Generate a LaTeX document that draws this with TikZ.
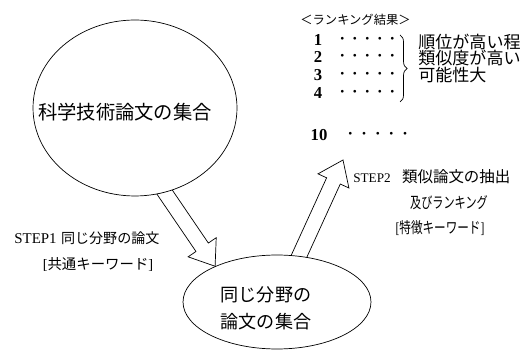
\documentclass[tikz,border=0pt]{standalone}
\usepackage{fontspec}
\setmainfont{Liberation Serif}
\newfontfamily\jp{Noto Sans CJK JP}
\usetikzlibrary{shapes.geometric,calc,decorations.pathreplacing}
\pgfdeclarelayer{bg}
\pgfsetlayers{bg,main}
% block arrow from #1 (tail) to #2 (tip)
\newcommand\blockarr[2]{%
  \path ($(#2)!0.46cm!(#1)$) coordinate (bh);
  \draw[blockline] ($(#1)!0.15cm!90:(#2)$) -- ($(bh)!0.15cm!90:(#2)$)
    -- ($(bh)!0.34cm!90:(#2)$) -- (#2) -- ($(bh)!0.34cm!-90:(#2)$)
    -- ($(bh)!0.15cm!-90:(#2)$) -- ($(#1)!0.15cm!-90:(#2)$);}
\newcommand\rowdots[1]{\makebox[#1]{•}\makebox[#1]{•}\makebox[#1]{•}\makebox[#1]{•}\makebox[#1]{•}}
\begin{document}
\begin{tikzpicture}[x=0.02cm,y=-0.02cm,line width=0.6pt,
  setshape/.style={draw,ellipse,fill=white,inner sep=0pt},
  blockline/.style={draw,fill=white,line join=miter},
  lbl/.style={inner sep=0pt},
  numtxt/.style={inner sep=0pt,font=\fontsize{9.5}{12}\selectfont\bfseries},
  dotrow/.style={inner sep=0pt,anchor=west,font=\fontsize{6.5}{7}\selectfont},
  ranktxt/.style={inner sep=0pt,anchor=west,font=\jp\fontsize{9.7}{10}\selectfont}]
\useasboundingbox (0,0) rectangle (530,357);
\begin{pgfonlayer}{bg}
  \fill[white] (0,0) rectangle (530,357);
\end{pgfonlayer}

% sets
\node[setshape,minimum width=4.08cm,minimum height=3.52cm] (big) at (135,108) {};
\node[lbl,font=\jp\fontsize{11}{13}\selectfont] (bigtxt) at (125,112) {科学技術論文の集合};
\node[setshape,minimum width=3.76cm,minimum height=1.88cm] (small) at (277,302) {};
\node[lbl,font=\jp\fontsize{10.3}{12}\selectfont] (smtxta) at (266,295) {同じ分野の};
\node[lbl,font=\jp\fontsize{10.3}{12}\selectfont] (smtxtb) at (266,322) {論文の集合};

% arrows
\coordinate (a1) at (155,178);
\coordinate (a2) at (290,276);
\coordinate (t2) at (343,160);
\begin{pgfonlayer}{bg}
  \blockarr{a1}{small.150}
  \blockarr{a2}{t2}
\end{pgfonlayer}

% step labels
\node[lbl,anchor=west] (s1a) at (14,238) {{\fontsize{8.5}{10}\selectfont STEP1} {\jp\fontsize{8}{10}\selectfont 同じ分野の論文}};
\node[lbl,font=\fontsize{8.2}{10}\selectfont] (s1b) at (98,264) {[{\jp 共通キーワード}]};
\node[lbl,anchor=west] (s2a) at (353,177) {{\fontsize{7.5}{10}\selectfont STEP2}\hspace{6.5pt}{\jp\fontsize{8.8}{10}\selectfont 類似論文の抽出}};
\node[lbl,font=\jp\fontsize{8.8}{10}\selectfont] (s2b) at (449,203) {\scalebox{0.72}[1]{及びランキング}};
\node[lbl,font=\fontsize{8.8}{10}\selectfont] (s2c) at (440,228) {\scalebox{0.75}[1]{[{\jp 特徴キーワード}]}};

% ranking
\node[lbl,anchor=west,font=\jp\fontsize{7}{8}\selectfont] (rhead) at (300,20) {＜ランキング結果＞};
\node[numtxt] (n1) at (318,40) {1};
\node[numtxt] (n2) at (318,57) {2};
\node[numtxt] (n3) at (318,75) {3};
\node[numtxt] (n4) at (318,93) {4};
\node[numtxt] (n10) at (319,135) {10};
\node[dotrow] (d1) at (335.75,40) {\rowdots{0.25cm}};
\node[dotrow] (d2) at (335.75,57) {\rowdots{0.25cm}};
\node[dotrow] (d3) at (335.75,75) {\rowdots{0.25cm}};
\node[dotrow] (d4) at (335.75,93) {\rowdots{0.25cm}};
\node[dotrow] (d10) at (343.2,135) {\rowdots{0.274cm}};
\coordinate (bra) at (400,35);
\coordinate (brb) at (400,102);
\draw[decorate,decoration={brace,amplitude=4pt}] (bra) -- (brb);
\node[ranktxt] (r1) at (418,42) {順位が高い程};
\node[ranktxt] (r2) at (418,58) {類似度が高い};
\node[ranktxt] (r3) at (418,75) {可能性大};
\end{tikzpicture}
\end{document}
